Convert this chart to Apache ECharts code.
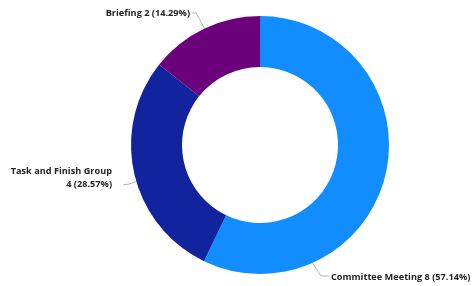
<!DOCTYPE html>
<html lang="en">
<head>
    <meta charset="UTF-8">
    <title>donut</title>
    <script src="https://cdn.jsdelivr.net/npm/echarts@6/dist/echarts.min.js"></script>
    <style>
        html, body { margin: 0; padding: 0; background: #fff; }
        #chart { width: 473px; height: 286px; }
    </style>
</head>
<body>
<div id="chart"></div>
<script>
    const categories = ['Committee Meeting', 'Task and Finish Group', 'Briefing'];
    const values = [8, 4, 2];
    const colors = ['#118DFF', '#12239E', '#6B007B'];

    const total = values.reduce((a, b) => a + b, 0);

    const cx = 260, cy = 145, rIn = 78, rOut = 129;

    // point on the outer edge of the ring, angle in degrees (screen, clockwise from +x)
    function edge(deg) {
        const a = deg * Math.PI / 180;
        return [cx + rOut * Math.cos(a), cy + rOut * Math.sin(a)];
    }

    // where each label sits and how its leader line runs
    const labelSpots = [
        { x: 331, y: 277, align: 'left', line: [edge(66), [321, 276], [329, 276]] },
        { x: 112, y: 178, align: 'right', line: [edge(163.5), [129, 184], [123, 185]] },
        { x: 190, y: 13, align: 'right', line: [edge(-115.5), [196, 13], [192, 13]] }
    ];

    const myChart = echarts.init(document.getElementById('chart'));
    myChart.setOption({
        animation: false,
        series: [{
            type: 'pie',
            center: [cx, cy],
            radius: [rIn, rOut],
            startAngle: 90,
            clockwise: true,
            avoidLabelOverlap: false,
            data: categories.map((name, i) => ({
                name: name,
                value: values[i],
                itemStyle: { color: colors[i] }
            })),
            label: {
                show: true,
                color: '#252423',
                fontFamily: 'Open Sans',
                fontWeight: 'bold',
                fontSize: 9.2,
                lineHeight: 12.5,
                formatter: function (p) {
                    const pct = (p.value / total * 100).toFixed(2);
                    if (p.dataIndex === 1) {
                        return p.name + '\n' + p.value + ' (' + pct + '%)';
                    }
                    return p.name + ' ' + p.value + ' (' + pct + '%)';
                }
            },
            labelLine: {
                show: true,
                lineStyle: { color: '#b3b3b3', width: 1 }
            },
            labelLayout: function (p) {
                const s = labelSpots[p.dataIndex];
                return {
                    x: s.x,
                    y: s.y,
                    align: s.align,
                    verticalAlign: 'middle',
                    labelLinePoints: s.line
                };
            },
            emphasis: { disabled: true }
        }]
    });
</script>
</body>
</html>
